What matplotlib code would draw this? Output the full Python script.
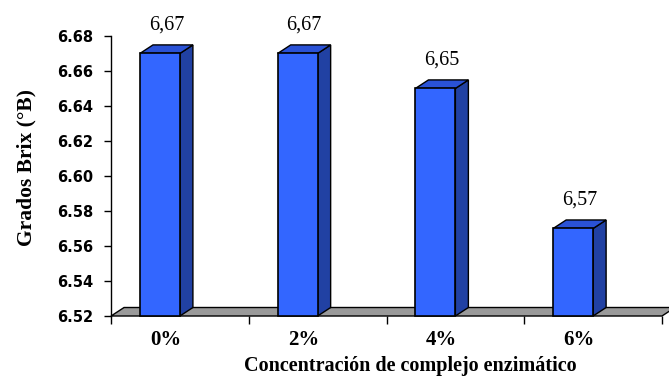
import numpy as np
import matplotlib.pyplot as plt
from matplotlib.patches import Polygon

categories = ['0%', '2%', '4%', '6%']
values = [6.67, 6.67, 6.65, 6.57]
value_labels = ['6,67', '6,67', '6,65', '6,57']
yticks = [6.52, 6.54, 6.56, 6.58, 6.60, 6.62, 6.64, 6.66, 6.68]

ymin, ymax = 6.52, 6.68

fig = plt.figure(figsize=(6.69, 3.78), dpi=100)
ax = fig.add_axes([0.166, 0.164, 0.8235, 0.741])
ax.set_xlim(0, 4)
ax.set_ylim(ymin, ymax)

# depth of the fake 3d effect in data units
dx = 13 / 137.75
dy = 8.5 / 1750.0

front = '#3366ff'
top = '#2a52d6'
side = '#2141a3'

# grey floor
floor = Polygon([(0, ymin), (4, ymin), (4 + dx, ymin + dy), (dx, ymin + dy)],
                closed=True, facecolor='#9a9a9a', edgecolor='black', lw=1.0,
                clip_on=False, zorder=2)
ax.add_patch(floor)

w = 0.29
for i, v in enumerate(values):
    x0 = i + 0.21
    x1 = x0 + w
    ax.add_patch(Polygon([(x1, ymin), (x1 + dx, ymin + dy), (x1 + dx, v + dy), (x1, v)],
                         facecolor=side, edgecolor='black', lw=1.0, zorder=3, clip_on=False))
    ax.add_patch(Polygon([(x0, v), (x1, v), (x1 + dx, v + dy), (x0 + dx, v + dy)],
                         facecolor=top, edgecolor='black', lw=1.0, zorder=3, clip_on=False))
    ax.add_patch(Polygon([(x0, ymin), (x1, ymin), (x1, v), (x0, v)],
                         facecolor=front, edgecolor='black', lw=1.2, zorder=4, clip_on=False))
    ax.annotate(value_labels[i], xy=((x0 + x1 + dx) / 2, v), xytext=(0, 17.5),
                textcoords='offset points', ha='center', va='baseline',
                fontsize=14.5, family='Liberation Serif', zorder=5)

for s in ['top', 'right', 'bottom']:
    ax.spines[s].set_visible(False)
ax.spines['left'].set_linewidth(1.0)

ax.set_yticks(yticks)
ax.set_yticklabels(['%.2f' % t for t in yticks], fontsize=10.5, fontweight='bold',
                   family='DejaVu Sans')
ax.tick_params(axis='y', length=5, width=1, direction='out', pad=8)

ax.set_xticks([0, 1, 2, 3, 4])
ax.set_xticklabels([])
ax.set_xticks([i + 0.40 for i in range(4)], minor=True)
ax.set_xticklabels(categories, minor=True, fontsize=15, fontweight='bold',
                   family='Liberation Serif')
ax.tick_params(axis='x', which='major', length=6, width=1, direction='out')
ax.tick_params(axis='x', which='minor', length=0, pad=10)

fig.text(26 / 669, 1 - 168 / 378, 'Grados Brix (°B)', rotation=90, ha='center', va='center',
         fontsize=15.5, fontweight='bold', family='Liberation Serif')
fig.text(410 / 669, 1 - 371 / 378, 'Concentración de complejo enzimático', ha='center',
         va='baseline', fontsize=14.5, fontweight='bold', family='Liberation Serif')

fig.savefig('out.png', dpi=100)
